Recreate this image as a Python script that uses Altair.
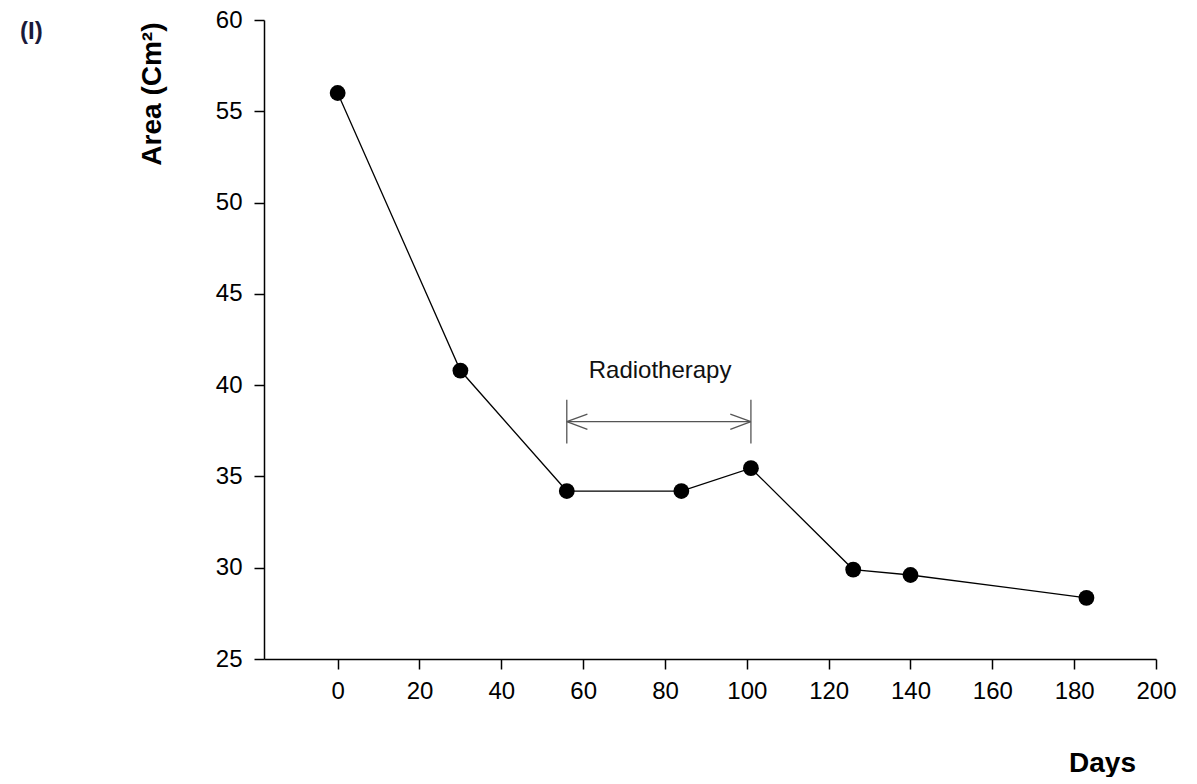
import altair as alt
import pandas as pd

days = [0, 30, 56, 84, 101, 126, 140, 183]
area = [56.0, 40.8, 34.2, 34.2, 35.45, 29.9, 29.6, 28.35]

rt_start = 56
rt_end = 101
rt_level = 38.0
rt_bar_lo = 36.8
rt_bar_hi = 39.2
rt_label = "Radiotherapy"
rt_label_x = 78.8
rt_label_y = 40.8

x_ticks = [0, 20, 40, 60, 80, 100, 120, 140, 160, 180, 200]
y_ticks = [25, 30, 35, 40, 45, 50, 55, 60]

FONT = "Liberation Sans"

df = pd.DataFrame({"Days": days, "Area": area})

xscale = alt.Scale(domain=[-18, 200], nice=False, zero=False)
yscale = alt.Scale(domain=[25, 60], nice=False, zero=False)

xaxis = alt.Axis(values=x_ticks, title="Days", grid=False, tickSize=10, labelPadding=10,
                 labelFlush=False, labelOverlap=False,
                 labelFontSize=24, labelFont=FONT, labelColor="black",
                 domainColor="black", tickColor="black", domainWidth=1.5, tickWidth=1.5,
                 titleFont=FONT, titleFontSize=28, titleFontWeight="bold", titleColor="black",
                 titleX=838, titleY=104, titleBaseline="middle", titleAlign="center")
yaxis = alt.Axis(values=y_ticks, title="Area (Cm²)", grid=False, tickSize=10, labelPadding=12,
                 labelFlush=False, labelOverlap=False,
                 labelFontSize=24, labelFont=FONT, labelColor="black",
                 domainColor="black", tickColor="black", domainWidth=1.5, tickWidth=1.5,
                 titleFont=FONT, titleFontSize=28, titleFontWeight="bold", titleColor="black",
                 titleAngle=-90, titleX=-112, titleY=2, titleAlign="right", titleBaseline="middle")

base = alt.Chart(df)
line = base.mark_line(color="black", strokeWidth=1.3).encode(
    x=alt.X("Days:Q", scale=xscale, axis=xaxis),
    y=alt.Y("Area:Q", scale=yscale, axis=yaxis),
)
pts = base.mark_point(filled=True, color="black", size=250, opacity=1).encode(
    x=alt.X("Days:Q", scale=xscale),
    y=alt.Y("Area:Q", scale=yscale),
)

arrow_df = pd.DataFrame({"x1": [rt_start], "x2": [rt_end], "y": [rt_level]})
arrow_line = alt.Chart(arrow_df).mark_rule(color="#555555", strokeWidth=1.3).encode(
    x="x1:Q", x2="x2:Q", y="y:Q"
)
bars_df = pd.DataFrame({"x": [rt_start, rt_end], "lo": [rt_bar_lo] * 2, "hi": [rt_bar_hi] * 2})
end_bars = alt.Chart(bars_df).mark_rule(color="#555555", strokeWidth=1.3).encode(
    x="x:Q", y="lo:Q", y2="hi:Q"
)
left_head = alt.Chart(pd.DataFrame({"x": [rt_start], "y": [rt_level]})).mark_point(
    shape="M0,0L1,-0.37M0,0L1,0.37", size=1700, filled=False, color="#555555",
    strokeWidth=1.3, opacity=1
).encode(x="x:Q", y="y:Q")
right_head = alt.Chart(pd.DataFrame({"x": [rt_end], "y": [rt_level]})).mark_point(
    shape="M0,0L-1,-0.37M0,0L-1,0.37", size=1700, filled=False, color="#555555",
    strokeWidth=1.3, opacity=1
).encode(x="x:Q", y="y:Q")
label = alt.Chart(pd.DataFrame({"x": [rt_label_x], "y": [rt_label_y], "t": [rt_label]})).mark_text(
    font=FONT, fontSize=24, color="#111111", align="center", baseline="middle"
).encode(x="x:Q", y="y:Q", text="t:N")

chart = alt.layer(line, pts, arrow_line, end_bars, left_head, right_head, label).properties(
    width=892, height=639,
    autosize=alt.AutoSizeParams(type="none"),
    padding={"left": 256, "top": 12, "right": 33, "bottom": 118},
    title=alt.TitleParams("(I)", anchor="start", frame="group", font=FONT, fontSize=24,
                          fontWeight="bold", color="#1a1a3a", dx=-244, dy=16,
                          baseline="top", offset=-20),
).configure_view(stroke=None)

chart.save("out.html", embed_options={"renderer": "svg", "actions": False})
